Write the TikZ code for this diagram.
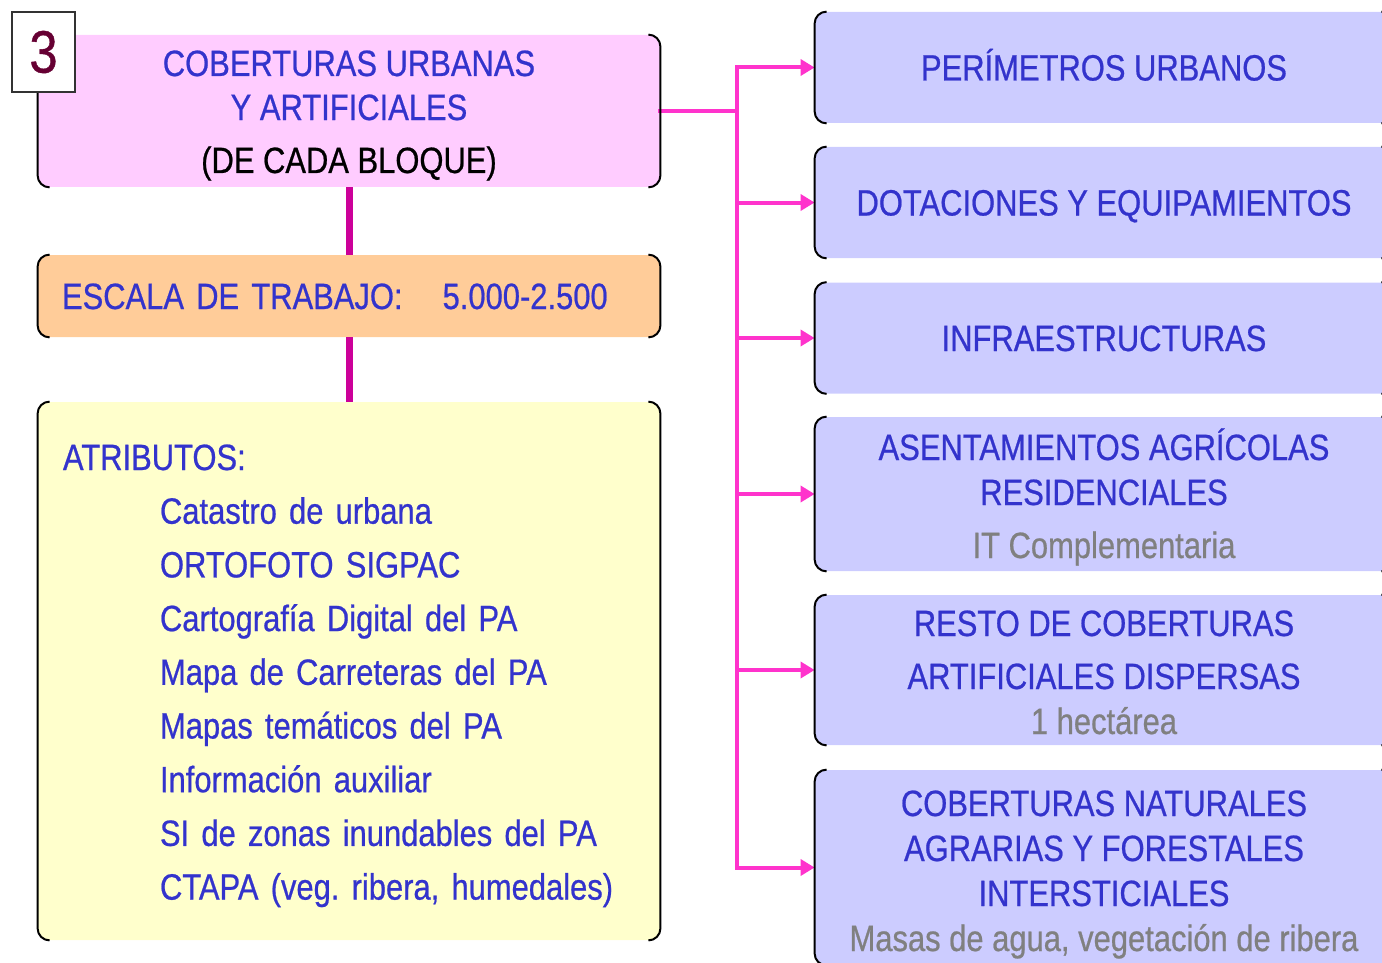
\documentclass[tikz,border=0pt]{standalone}
\usepackage{fontspec}
\setmainfont{Liberation Sans}[FakeStretch=0.845,FakeBold=0.6]
\usetikzlibrary{shapes}
\usetikzlibrary{arrows.meta}

\definecolor{txtblue}{HTML}{3333CC}
\definecolor{txtgray}{HTML}{808080}
\definecolor{pinkfill}{HTML}{FFCCFF}
\definecolor{orangefill}{HTML}{FFCC99}
\definecolor{yellowfill}{HTML}{FFFFCC}
\definecolor{lavfill}{HTML}{CCCCFF}
\definecolor{stemcol}{HTML}{CC0099}
\definecolor{linkcol}{HTML}{FF33CC}
\definecolor{numcol}{HTML}{660033}

\begin{document}
\frenchspacing
\begin{tikzpicture}[x=0.5pt,y=-0.5pt]
			\tikzstyle{box}=[rectangle,rounded corners=6pt,inner sep=0pt,text=txtblue,font=\fontsize{18.3}{22}\selectfont]
			\tikzstyle{lbox}=[box,minimum width=311pt]
			\tikzstyle{rbox}=[box,fill=lavfill,minimum width=289pt,align=center,font=\fontsize{18.3}{22.5}\selectfont]
			\tikzstyle{oneline}=[text height=13pt,text depth=0pt]
			\tikzstyle{bracket}=[line width=1pt,rounded corners=6pt]
			\tikzstyle{stem}=[draw=stemcol,line width=3.5pt]
			\tikzstyle{link}=[draw=linkcol,line width=2pt,line cap=rect]
			\tikzstyle{numbox}=[draw=black!80,line width=1pt,fill=white,minimum width=31.5pt,minimum height=40pt,inner sep=0pt,text=numcol,font=\fontsize{30}{30}\selectfont]
			
			\useasboundingbox (0,0) rectangle (1382,963);
			\clip (0,0) rectangle (1382,963);
			
			% left column
			\node[lbox,fill=pinkfill,minimum height=76pt,align=center,text height=62pt,text depth=0pt] (pink) at (349,111)
			{COBERTURAS URBANAS\\Y ARTIFICIALES\\[4.5pt]\textcolor{black}{(DE CADA BLOQUE)}};
			\node[lbox,fill=orangefill,minimum height=41pt,text width=287pt,align=left,oneline] (scale) at (349,296)
			{ESCALA DE TRABAJO:\hspace{20pt}5.000-2.500};
			\node[lbox,fill=yellowfill,minimum height=269pt,text width=286pt,align=left,font=\fontsize{18.3}{26.85}\selectfont,text height=13pt,text depth=214pt] (attr) at (349,671)
			{ATRIBUTOS:\\
			\hspace*{48.5pt}Catastro de urbana\\
			\hspace*{48.5pt}ORTOFOTO SIGPAC\\
			\hspace*{48.5pt}Cartografía Digital del PA\\
			\hspace*{48.5pt}Mapa de Carreteras del PA\\
			\hspace*{48.5pt}Mapas temáticos del PA\\
			\hspace*{48.5pt}Información auxiliar\\
			\hspace*{48.5pt}SI de zonas inundables del PA\\
			\hspace*{48.5pt}CTAPA (veg. ribera, humedales)};
			
			% right column
			\node[rbox,minimum height=55.5pt,oneline] (r1) at (1104,67.5) {PERÍMETROS URBANOS};
			\node[rbox,minimum height=55.5pt,oneline] (r2) at (1104,202.5) {DOTACIONES Y EQUIPAMIENTOS};
			\node[rbox,minimum height=55.5pt,oneline] (r3) at (1104,338) {INFRAESTRUCTURAS};
			\node[rbox,minimum height=77pt,text height=64pt,text depth=0pt] (r4) at (1104,494)
			{ASENTAMIENTOS AGRÍCOLAS\\RESIDENCIALES\\[4pt]\textcolor{txtgray}{IT Complementaria}};
			\node[rbox,minimum height=75pt,text height=64pt,text depth=0pt] (r5) at (1104,670)
			{RESTO DE COBERTURAS\\[4pt]ARTIFICIALES DISPERSAS\\\textcolor{txtgray}{1 hectárea}};
			\node[rbox,minimum height=97.5pt,text height=83.5pt,text depth=0pt] (r6) at (1104,867.5)
			{COBERTURAS NATURALES\\AGRARIAS Y FORESTALES\\INTERSTICIALES\\\textcolor{txtgray}{Masas de agua, vegetación de ribera}};
			
			\draw[stem] (pink.south) -- (scale.north);
			\draw[stem] (scale.south) -- (attr.north);
			
			\coordinate (hub) at (737,111);
			\draw[link] (pink.east) -- (hub);
			\draw[link] (hub |- r1.west) -- (hub |- r6.west);
			\foreach \r in {r1,r2,r3,r4,r5,r6}
			\draw[link,-{Triangle[length=7pt,width=8pt]}] (hub |- \r.west) -- (\r.west);
			
			\foreach \b in {pink,scale,attr,r1,r2,r3,r4,r5,r6} {
				\draw[bracket] ([xshift=6pt]\b.north west) -- (\b.north west) -- (\b.south west) -- ([xshift=6pt]\b.south west);
				\draw[bracket] ([xshift=-6pt]\b.north east) -- (\b.north east) -- (\b.south east) -- ([xshift=-6pt]\b.south east);
			}
			
			\node[numbox] (num) at (43.5,52) {3};
\end{tikzpicture}
\end{document}
